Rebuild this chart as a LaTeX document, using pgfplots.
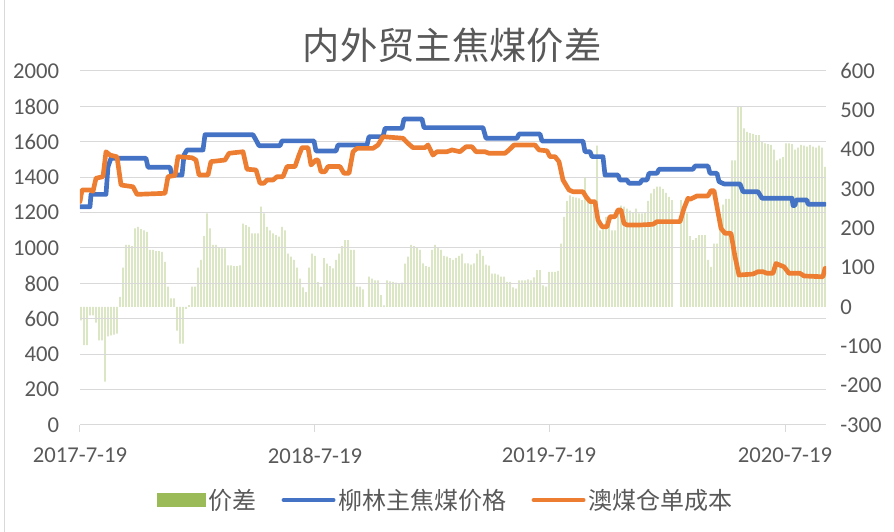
\documentclass[border=0pt]{standalone}
\usepackage{fontspec}
\setmainfont{Carlito}
\newfontfamily\cjk{Noto Sans CJK SC}
\usepackage{pgfplots}
\pgfplotsset{compat=1.18}
\usepackage{pgfplotstable}
\definecolor{barc}{HTML}{9BBB59}
\definecolor{bluec}{HTML}{4472C4}
\definecolor{orangec}{HTML}{ED7D31}
\definecolor{gridc}{HTML}{D9D9D9}
\definecolor{txtc}{HTML}{595959}

% x = position index along the time axis (0 = 2017-7-19, 235 = 2018-7-19, 469 = 2019-7-19, 705 = 2020-7-19)
\pgfplotstableread{
t v
1 -34
4 -97
7 -97
10 -21
13 -21
16 -40
19 -85
22 -85
25 -190
28 -75
31 -72
34 -70
37 -68
40 26
43 100
46 158
49 158
52 155
55 200
58 204
61 198
64 195
67 191
70 145
73 145
76 142
79 142
82 140
85 115
88 52
91 22
94 22
97 -60
100 -93
103 -93
106 -5
109 5
112 52
115 52
118 100
121 120
124 180
127 238
130 200
133 158
136 158
139 150
142 149
145 149
148 106
151 106
154 104
157 104
160 106
163 212
166 208
169 204
172 187
175 187
178 187
181 255
184 238
187 204
190 195
193 187
196 183
199 179
202 204
205 195
208 136
211 128
214 120
217 100
220 72
223 50
226 38
229 100
232 136
235 130
238 63
241 52
244 124
247 110
250 104
253 98
256 120
259 136
262 155
265 170
268 170
271 145
274 145
277 52
280 52
283 45
289 77
292 72
295 68
298 68
301 30
304 4
307 68
310 65
313 64
316 62
319 60
322 62
325 110
328 128
331 158
334 155
337 150
340 145
343 111
346 104
349 102
352 145
355 158
358 150
361 145
364 130
367 128
370 124
373 120
376 125
379 130
382 136
385 111
388 111
391 108
394 111
397 136
400 145
403 130
406 108
409 105
412 85
415 85
418 82
421 77
424 77
427 64
430 64
433 50
436 47
439 68
442 68
445 68
448 70
451 68
454 75
457 94
460 94
463 55
466 52
469 89
472 89
475 89
478 92
481 161
484 229
487 270
490 284
493 280
496 278
499 276
502 272
505 330
508 272
511 270
514 260
517 410
520 195
523 200
526 229
529 229
532 195
535 195
538 240
541 258
544 255
547 250
550 245
553 240
556 250
559 238
562 238
565 240
568 270
571 289
574 300
577 306
580 306
583 300
586 290
589 280
592 272
601 272
604 250
607 238
610 180
613 170
616 175
619 183
622 183
625 183
628 120
631 102
634 161
637 161
640 229
643 260
646 275
649 275
652 373
655 373
658 509
661 509
664 454
667 445
670 442
673 440
676 437
679 437
682 420
685 416
688 414
691 412
694 400
697 373
700 377
703 381
706 416
709 416
712 414
715 400
718 405
721 412
724 410
727 408
730 412
733 408
736 405
739 410
742 405
745 356
}\bars

\pgfplotstableread{
t v
0 1233
10 1233
11 1303
26 1303
28 1460
31 1507
66 1507
68 1456
90 1456
92 1412
102 1412
104 1525
107 1554
123 1554
125 1640
173 1640
176 1610
179 1578
200 1578
202 1605
234 1605
236 1548
256 1548
258 1582
287 1582
289 1629
303 1629
305 1676
322 1676
324 1729
342 1729
344 1680
403 1680
406 1620
437 1620
439 1644
460 1644
462 1604
503 1604
505 1544
510 1544
512 1516
523 1516
525 1412
538 1412
540 1384
547 1384
549 1366
560 1366
562 1384
567 1384
569 1422
577 1422
579 1445
613 1445
615 1463
628 1463
630 1422
637 1422
639 1375
644 1362
660 1362
663 1318
678 1318
682 1281
712 1281
713 1240
715 1240
716 1271
727 1271
728 1247
745 1247
}\bluetab

\pgfplotstableread{
t v
0 1262
2 1328
10 1328
13 1320
16 1394
23 1403
26 1544
30 1525
37 1515
41 1356
53 1346
57 1303
85 1309
88 1403
95 1410
98 1516
112 1510
116 1497
119 1412
128 1412
131 1488
145 1497
149 1535
163 1544
167 1445
176 1441
180 1366
184 1366
187 1384
193 1384
197 1403
203 1403
207 1460
215 1460
219 1525
222 1567
228 1567
231 1469
236 1497
238 1497
241 1431
245 1431
248 1460
260 1460
264 1422
269 1422
273 1544
277 1563
293 1563
298 1582
303 1629
323 1620
328 1591
333 1567
345 1567
348 1582
353 1525
357 1544
367 1544
372 1554
380 1544
386 1572
392 1572
396 1544
405 1544
409 1535
425 1535
429 1554
434 1582
455 1582
459 1554
467 1549
470 1516
475 1516
479 1488
483 1384
489 1328
493 1318
503 1318
506 1290
510 1262
515 1262
518 1158
522 1120
527 1120
530 1177
535 1177
538 1215
541 1215
544 1139
547 1130
560 1130
573 1134
577 1149
600 1149
604 1224
608 1281
610 1275
617 1294
628 1294
631 1324
634 1324
637 1233
641 1111
645 1083
651 1083
655 951
659 847
673 853
678 866
683 866
687 857
693 857
696 913
699 905
704 894
709 857
720 857
724 842
740 838
743 838
745 885
}\orangetab

\begin{document}
\begin{tikzpicture}
\path[use as bounding box] (-60pt,-80.25pt) rectangle (610.5pt,318.75pt);
\draw[gridc, line width=0.75pt] (-56.25pt,-80.25pt) -- (-56.25pt,318.75pt);

% secondary axis: price difference bars
\begin{axis}[
  at={(0pt,0pt)}, anchor=south west,
  scale only axis, width=559.5pt, height=265.5pt,
  xmin=0, xmax=746, ymin=-300, ymax=600,
  axis x line=none, axis y line*=right,
  y axis line style={draw=none},
  ytick={-300,-200,-100,0,100,200,300,400,500,600},
  yticklabels={-300,-200,-100,0,100,200,300,400,500,600},
  ytick style={draw=none},
  yticklabel style={anchor=west, inner sep=0pt, xshift=10.5pt, font=\fontsize{17}{17}\selectfont, text=txtc},
]
\addplot[ybar, bar width=1.0pt, fill=barc, fill opacity=0.55, draw=none] table[x=t, y=v] {\bars};
\end{axis}

% primary axis: prices
\begin{axis}[
  at={(0pt,0pt)}, anchor=south west,
  scale only axis, width=559.5pt, height=265.5pt,
  xmin=0, xmax=746, ymin=0, ymax=2000,
  axis x line*=bottom, axis y line*=left,
  axis line style={-},
  y axis line style={draw=none},
  x axis line style={gridc, line width=0.75pt},
  ytick={0,200,...,2000},
  ymajorgrids, grid style={gridc, line width=0.75pt},
  ytick style={draw=none},
  xtick={0,235,469,705},
  xticklabels={2017-7-19,2018-7-19,2019-7-19,2020-7-19},
  xtick style={gridc, line width=0.75pt},
  tick align=outside, major tick length=5pt,
  yticklabel style={anchor=east, inner sep=0pt, xshift=-10.5pt, font=\fontsize{17}{17}\selectfont, text=txtc},
  xticklabel style={anchor=north, inner sep=0pt, yshift=-12pt, font=\fontsize{17}{17}\selectfont, text=txtc},
  /pgf/number format/assume math mode=true,
  /pgf/number format/1000 sep={},
  title={\cjk 内外贸主焦煤价差},
  title style={at={(0.4987,1.0508)}, anchor=center, font=\fontsize{28}{28}\selectfont, text=txtc},
  legend style={at={(0.4906,-0.2119)}, anchor=center, draw=none, fill=none,
    font=\cjk\fontsize{18}{18}\selectfont, text=txtc,
    /tikz/every even column/.append style={column sep=17pt}},
  legend columns=3,
]
\addlegendimage{legend image code/.code={\fill[barc] (0pt,-5pt) rectangle (36pt,5pt);}}
\addlegendentry{价差}
\addplot[bluec, line width=3.5pt, line join=round, line cap=round,
  legend image code/.code={\draw[bluec, line width=3.5pt, line cap=round] (2pt,0pt) -- (39pt,0pt);}]
  table[x=t, y=v] {\bluetab};
\addlegendentry{柳林主焦煤价格}
\addplot[orangec, line width=3.5pt, line join=round, line cap=round,
  legend image code/.code={\draw[orangec, line width=3.5pt, line cap=round] (2pt,0pt) -- (39pt,0pt);}]
  table[x=t, y=v] {\orangetab};
\addlegendentry{澳煤仓单成本}
\end{axis}
\end{tikzpicture}
\end{document}
